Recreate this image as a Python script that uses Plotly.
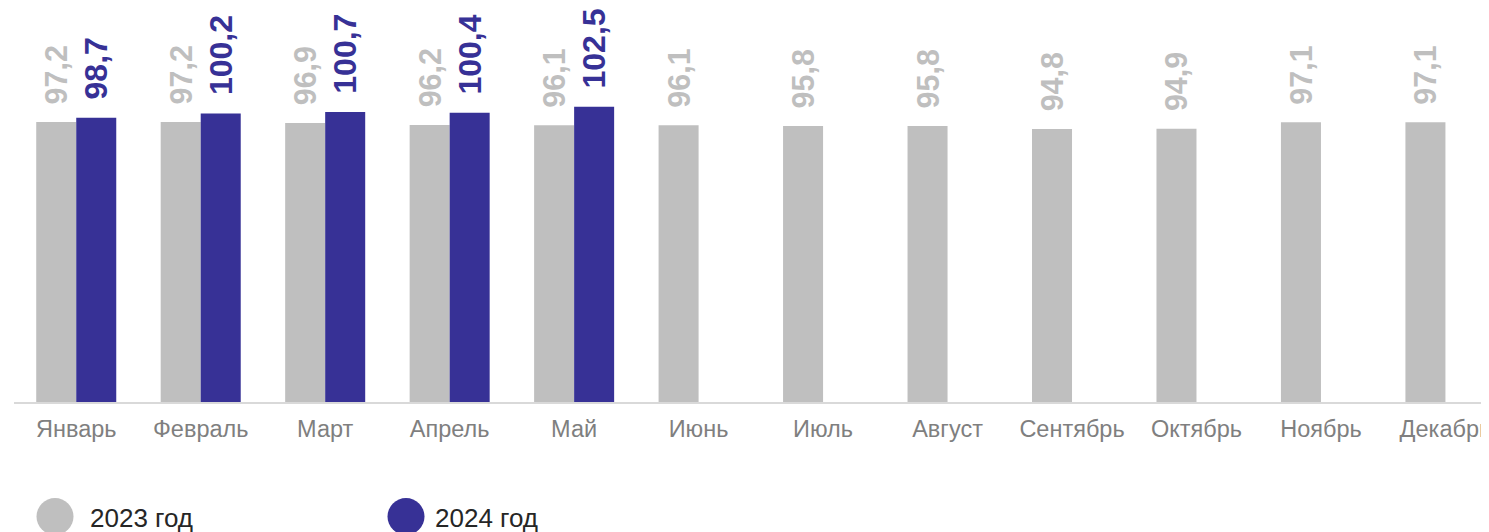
import plotly.graph_objects as go

months = ["Январь", "Февраль", "Март", "Апрель", "Май", "Июнь", "Июль",
          "Август", "Сентябрь", "Октябрь", "Ноябрь", "Декабрь"]
values_2023 = [97.2, 97.2, 96.9, 96.2, 96.1, 96.1, 95.8, 95.8, 94.8, 94.9, 97.1, 97.1]
values_2024 = [98.7, 100.2, 100.7, 100.4, 102.5, None, None, None, None, None, None, None]
series_names = ["2023 год", "2024 год"]

GRAY = "#bfbfbf"
BLUE = "#373196"
FONT = "Liberation Sans"

# page body has an 8px margin
OFF = 8
W, H = 1489, 532 - OFF
ML, MR, MT, MB = 14 - OFF, OFF, 0, 130
PW, PH = W - ML - MR, H - MT - MB

fig = go.Figure()
fig.add_trace(go.Bar(
    x=months, y=values_2023, name=series_names[0],
    marker=dict(color=GRAY, line=dict(width=0)),
    texttemplate="\u00a0\u2009%{y:.1f}", textposition="outside", textangle=-90,
    textfont=dict(family=FONT, size=30.5, color=GRAY, weight="bold"),
    cliponaxis=False, constraintext="none", showlegend=False,
))
fig.add_trace(go.Bar(
    x=months, y=values_2024, name=series_names[1],
    marker=dict(color=BLUE, line=dict(width=0)),
    texttemplate="\u00a0\u2009%{y:.1f}", textposition="outside", textangle=-90,
    textfont=dict(family=FONT, size=32, color=BLUE, weight="bold"),
    cliponaxis=False, constraintext="none", showlegend=False,
))

# legend drawn as circles + text (screen pixel positions converted to paper)
def px_to_paper_x(px):
    return (px - OFF - ML) / PW

def px_to_paper_y(py):
    return (H - MB - (py - OFF)) / PH

legend_items = [(55, 88, GRAY, series_names[0]), (406, 433, BLUE, series_names[1])]
shapes = []
annotations = []
r = 18.5
for cx, tx, col, name in legend_items:
    cy = 516.5
    shapes.append(dict(type="circle", xref="paper", yref="paper",
                       x0=px_to_paper_x(cx - r), x1=px_to_paper_x(cx + r),
                       y0=px_to_paper_y(cy + r), y1=px_to_paper_y(cy - r),
                       fillcolor=col, line=dict(width=0)))
    annotations.append(dict(xref="paper", yref="paper", x=px_to_paper_x(tx),
                            y=px_to_paper_y(518), xanchor="left", yanchor="middle",
                            text=name, showarrow=False,
                            font=dict(family=FONT, size=26, color="#262626")))

fig.update_layout(
    width=W, height=H,
    margin=dict(l=ML, r=MR, t=MT, b=MB, pad=0),
    paper_bgcolor="white", plot_bgcolor="white",
    barmode="group", bargap=0.357, bargroupgap=0,
    separators=", ",
    showlegend=False,
    shapes=shapes, annotations=annotations,
    font=dict(family=FONT),
    xaxis=dict(type="category", range=[-0.5, 11.35], showline=True,
               linecolor="#d9d9d9", linewidth=2, showgrid=False, ticks="",
               ticklabelstandoff=5,
               tickfont=dict(family=FONT, size=23.5, color="#7f7f7f"),
               automargin=False, zeroline=False),
    yaxis=dict(range=[0, 136.8], visible=False, showgrid=False, zeroline=False),
)

fig.write_html("out.html")
